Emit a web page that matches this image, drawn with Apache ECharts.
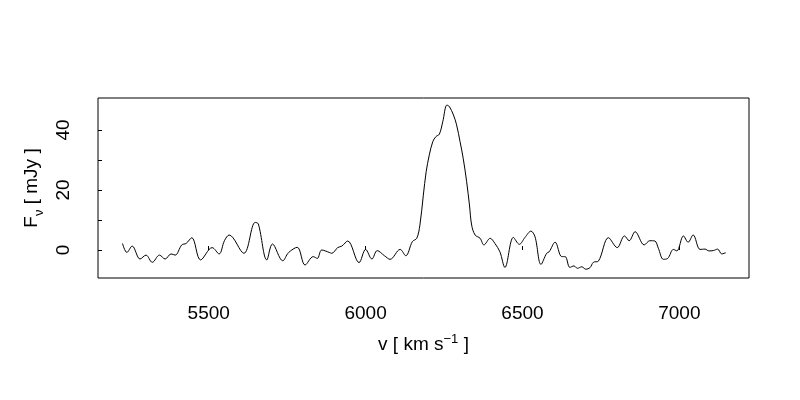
<!DOCTYPE html>
<html>
<head>
<meta charset="utf-8">
<script src="https://cdn.jsdelivr.net/npm/echarts@6/dist/echarts.min.js"></script>
<style>html,body{margin:0;padding:0;background:#fff}#c{width:800px;height:400px}</style>
</head>
<body>
<div id="c"></div>
<script>
const velocity = [5225,5239,5256,5281,5300,5320,5343,5361,5380,5393,5414,5428,5446,5474,5511,5533,5550,
  5565,5612,5648,5658,5685,5703,5736,5754,5782,5807,5833,5846,5860,5884,
  5892,5911,5924,5943,5979,6000,6020,6037,6060,6078,6110,6128,6149,6163,6173,6184,6193,6203,6214,6224,6235,6246,6259,6267,6280,6290,6301,6311,6322,6331,6338,6349,6365,6377,6397,6412,6428,6444,
  6471,6490,6508,6527,6540,6559,6577,6585,6604,6625,6636,6651,6664,6675,6689,6702,6715,6726,6742,
  6774,6802,6825,6840,6859,6888,6906,6922,6933,6949,6963,6981,6992,7013,7028,7044,7066,7082,7094,7108,7122,7135,7148];
const flux = [2.2,-0.8,1.3,-3.0,-1.7,-4.1,-1.7,-3.0,-1.3,-1.7,1.7,2.2,4.1,-3.3,0.8,-1.3,3.1,
  5.0,-1.1,9.2,8.7,-3.3,2.0,-3.6,-0.9,0.9,-5.0,-2.2,-2.8,0,-0.8,
  -1.1,0.8,1.3,3.0,-4.2,0.2,-3.0,-0.2,-1.9,-3.1,0.2,-1.9,2.8,3.9,8.3,18.3,26.1,31.7,36.1,37.8,38.6,42.8,48.3,47.8,45,41.7,36.1,30.6,22.8,15,8.3,5,3.9,1.7,3.9,2.2,-0.6,-5.8,
  4.2,1.9,4.2,6.3,4.4,-4.8,-1.1,-0.6,2.6,-2.2,-2.2,-5.8,-5.3,-6.1,-5.6,-6.4,-5.9,-4.1,-3.7,
  4.1,0.8,4.7,3.1,6.1,1.7,3.1,3.0,0.6,-3.1,-2.8,0.2,-0.3,4.7,2.6,5.0,0.2,0.3,-0.3,-0.2,0.3,-1.3,-0.9];
const xTicks = [5500,6000,6500,7000];
const yTicks = [0,10,20,30,40];
const yLabels = [0,20,40];

const chart = echarts.init(document.getElementById('c'), null, {renderer:'canvas'});
const font = 'Liberation Sans, Arial, sans-serif';
chart.setOption({
  backgroundColor:'#fff',
  animation:false,
  grid:{left:98, top:98, width:651, height:180, show:true, borderColor:'#000', borderWidth:1, backgroundColor:'transparent'},
  xAxis:{
    type:'value', min:5147, max:7222,
    axisLine:{show:false},
    splitLine:{show:false},
    axisTick:{show:true, inside:true, length:4, customValues:xTicks, lineStyle:{color:'#000'}},
    axisLabel:{customValues:xTicks, color:'#000', fontSize:19, fontFamily:font, margin:26, formatter:v=>String(v)},
    name:'{t|v [ km s}{s|−1}{t| ]}',
    nameLocation:'middle', nameGap:55,
    nameTextStyle:{rich:{t:{fontSize:19, fontFamily:font, color:'#000'}, s:{fontSize:13, fontFamily:font, color:'#000', padding:[0,0,10,0]}}}
  },
  yAxis:{
    type:'value', min:-9.33, max:50.67,
    axisLine:{show:false},
    splitLine:{show:false},
    axisTick:{show:true, inside:true, length:4, customValues:yTicks, lineStyle:{color:'#000'}},
    axisLabel:{customValues:yLabels, color:'#000', fontSize:19, fontFamily:font, rotate:90, margin:25, formatter:v=>String(v)},
    name:'{t|F}{s|ν}{t| [ mJy ]}',
    nameLocation:'middle', nameGap:50, nameRotate:90,
    nameTextStyle:{rich:{t:{fontSize:19, fontFamily:font, color:'#000', padding:[0,0,5,0], verticalAlign:'bottom'}, s:{fontSize:13, fontFamily:font, color:'#000', verticalAlign:'bottom'}}}
  },
  series:[{
    type:'line', data:velocity.map((v,i)=>[v,flux[i]]),
    showSymbol:false, smooth:0.35,
    lineStyle:{color:'#000', width:1}
  }]
});
</script>
</body>
</html>
